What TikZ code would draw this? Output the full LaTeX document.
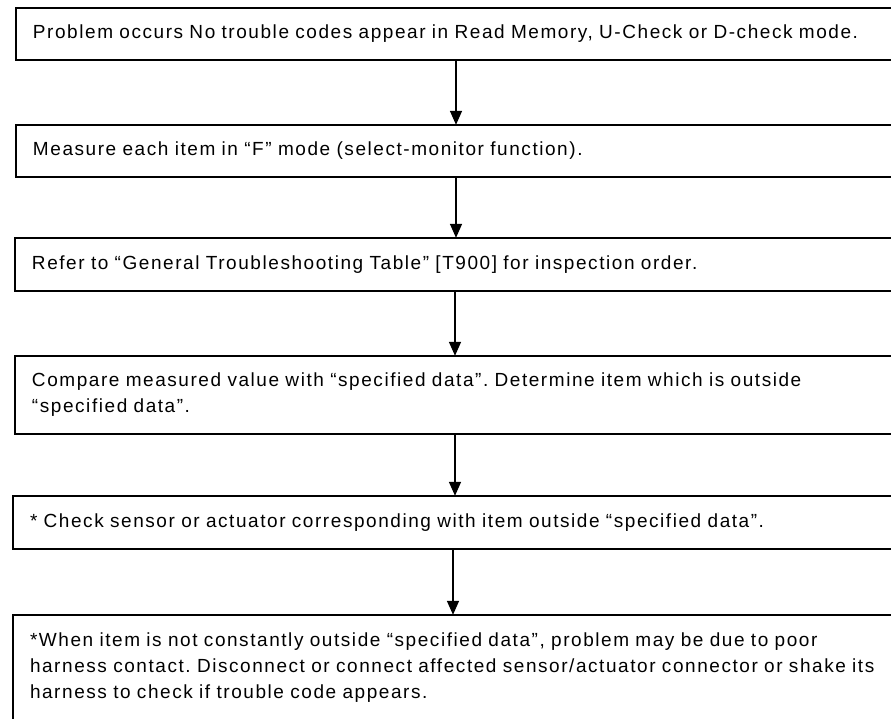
\documentclass[tikz,border=0pt]{standalone}
\usepackage{fontspec}
\setmainfont{Liberation Sans}[LetterSpace=8.2]
\usepackage{tikz}
\usetikzlibrary{positioning, arrows.meta}
\frenchspacing

\begin{document}
\begin{tikzpicture}[x=1pt, y=1pt,
    font=\fontsize{19pt}{26pt}\selectfont,
    boxnode/.style={minimum width=880pt, text width=880pt, inner xsep=0pt, inner ysep=0pt, align=left,
      execute at begin node={\leftskip=17pt}},
    boxline/.style={line width=1.5pt},
    flowarrow/.style={-{Triangle[length=14pt, width=12pt]}, line width=1.5pt}]
  \useasboundingbox (0,0) rectangle (891,-718);
  \node[boxnode, minimum height=52pt] (prob) at (456,-34) {Problem occurs No trouble codes appear in Read Memory, U-Check or D-check mode.};
  \node[boxnode, minimum height=52pt] (meas) at (456,-151) {Measure each item in ``F'' mode (select-monitor function).};
  \node[boxnode, minimum height=53pt] (refer) at (455,-264.5) {Refer to ``General Troubleshooting Table'' [T900] for inspection order.};
  \node[boxnode, minimum height=78pt] (comp) at (455,-395) {Compare measured value with ``specified data''. Determine item which is outside\\``specified data''.};
  \node[boxnode, minimum height=53pt] (check) at (453,-522.5) {* Check sensor or actuator corresponding with item outside ``specified data''.};
  \node[boxnode, minimum height=106pt] (harn) at (453,-668) {*When item is not constantly outside ``specified data'', problem may be due to poor\\harness contact. Disconnect or connect affected sensor/actuator connector or shake its\\harness to check if trouble code appears.};

  % boxes are open on the right
  \foreach \b in {prob, meas, refer, comp, check, harn}
    \draw[boxline] (\b.north east) -- (\b.north west) -- (\b.south west) -- (\b.south east);

  \foreach \a/\b in {prob/meas, meas/refer, refer/comp, comp/check, check/harn}
    \draw[flowarrow] (\a.south) -- (\a.south |- \b.north);
\end{tikzpicture}
\end{document}
